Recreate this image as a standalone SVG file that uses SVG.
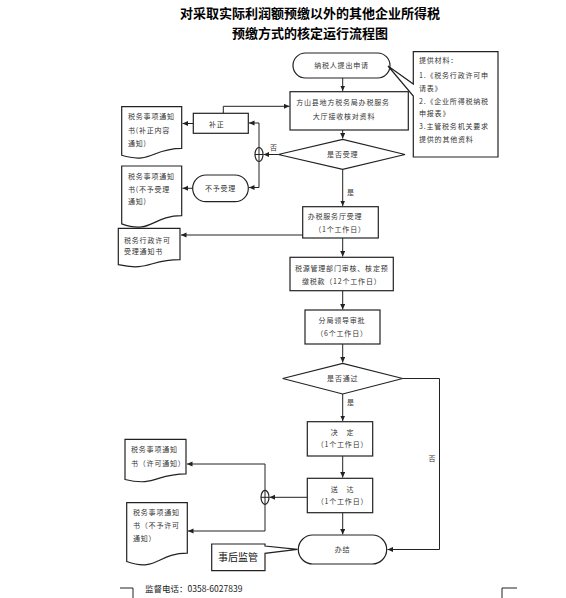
<svg xmlns="http://www.w3.org/2000/svg" width="566" height="598" viewBox="0 0 566 598">
<style>
.sh{fill:#fff;stroke:#222;stroke-width:1.2}
.ln{fill:none;stroke:#222;stroke-width:1}
.t{font-family:"Noto Sans CJK SC","Liberation Sans",sans-serif;font-size:7px;fill:#333;letter-spacing:0.8px}
.c{text-anchor:middle}
.title{font-family:"Noto Sans CJK SC","Liberation Serif",serif;font-size:13px;font-weight:bold;fill:#000;text-anchor:middle}
</style>
<defs>
<marker id="ar" markerUnits="userSpaceOnUse" markerWidth="6" markerHeight="6" refX="5.5" refY="2.5" orient="auto">
<path d="M0,0 L5.5,2.5 L0,5 Z" fill="#222"/>
</marker>
</defs>
<rect width="566" height="598" fill="#fff"/>
<text class="title" x="310" y="18">对采取实际利润额预缴以外的其他企业所得税</text>
<text class="title" x="310" y="38">预缴方式的核定运行流程图</text>

<g id="connectors">
<path class="ln" d="M342.7,78 V91" marker-end="url(#ar)"/>
<path class="ln" d="M342.7,130 V138.5" marker-end="url(#ar)"/>
<path class="ln" d="M278.3,154.5 H263.5" marker-end="url(#ar)"/>
<path class="ln" d="M259,123 V187.5"/>
<path class="ln" d="M259,123 H249" marker-end="url(#ar)"/>
<path class="ln" d="M259,187.5 H249" marker-end="url(#ar)"/>
<path class="ln" d="M193.3,123.5 H182.5" marker-end="url(#ar)"/>
<path class="ln" d="M192.7,188.3 H182.5" marker-end="url(#ar)"/>
<path class="ln" d="M223.3,113.3 V106.3 H289.5" marker-end="url(#ar)"/>
<path class="ln" d="M342.7,169.3 V206" marker-end="url(#ar)"/>
<path class="ln" d="M302.7,235 H181" marker-end="url(#ar)"/>
<path class="ln" d="M342.7,238 V256.5" marker-end="url(#ar)"/>
<path class="ln" d="M342.7,290.7 V309.5" marker-end="url(#ar)"/>
<path class="ln" d="M342.7,344 V362.5" marker-end="url(#ar)"/>
<path class="ln" d="M342.7,394 V421" marker-end="url(#ar)"/>
<path class="ln" d="M342.7,456 V477.5" marker-end="url(#ar)"/>
<path class="ln" d="M342.7,512.7 V534.5" marker-end="url(#ar)"/>
<path class="ln" d="M402.7,378.5 H439.5 V549.5 H387.5" marker-end="url(#ar)"/>
<path class="ln" d="M307.3,497.3 H269.5" marker-end="url(#ar)"/>
<path class="ln" d="M265,464 V531"/>
<path class="ln" d="M265,464 H187" marker-end="url(#ar)"/>
<path class="ln" d="M265,531 H188" marker-end="url(#ar)"/>
<text class="t" x="270" y="149.5">否</text>
<text class="t" x="347" y="194.5">是</text>
<text class="t" x="347" y="404.5">是</text>
<text class="t" x="428.5" y="461">否</text>
</g>

<g id="junction1">
<ellipse class="sh" cx="259" cy="154.5" rx="4" ry="7"/>
<path class="ln" d="M259,147.5 V161.5 M255,154.5 H263"/>
</g>
<g id="junction2">
<ellipse class="sh" cx="265" cy="497.3" rx="4" ry="7"/>
<path class="ln" d="M265,490.3 V504.3 M261,497.3 H269"/>
</g>

<g id="n-start">
<rect class="sh" x="293" y="53" width="97" height="25" rx="12.5"/>
<text class="t c" x="341.5" y="68">纳税人提出申请</text>
</g>

<g id="n-materials">
<path class="sh" d="M413.3,51.7 H498 V157 H413.3 V96 L388,66 L413.3,84 Z"/>
<text class="t" x="419" y="62.5">提供材料：</text>
<text class="t" x="419" y="77.5">1.《税务行政许可申</text>
<text class="t" x="419" y="90.8">请表》</text>
<text class="t" x="419" y="104.2">2.《企业所得税纳税</text>
<text class="t" x="419" y="115.8">申报表》</text>
<text class="t" x="419" y="128.5">3.主管税务机关要求</text>
<text class="t" x="419" y="141.8">提供的其他资料</text>
</g>

<g id="n-receive">
<rect class="sh" x="290" y="91.7" width="118.3" height="38.3"/>
<text class="t c" x="343" y="104.5">方山县地方税务局办税服务</text>
<text class="t c" x="344" y="118.5">大厅接收核对资料</text>
</g>

<g id="n-accept-q">
<path class="sh" d="M278.3,154.5 L342.7,139.3 L405,154.5 L342.7,169.3 Z"/>
<text class="t c" x="342.7" y="157">是否受理</text>
</g>

<g id="n-correct">
<rect class="sh" x="193.3" y="113.3" width="55" height="20"/>
<text class="t c" x="216.7" y="126.5">补正</text>
</g>

<g id="n-reject">
<rect class="sh" x="192.7" y="175" width="55.6" height="26.7" rx="13.3"/>
<text class="t c" x="220.5" y="191">不予受理</text>
</g>

<g id="n-doc1">
<path class="sh" d="M121.7,106.7 H181.7 V148.4 C151.7,148.4 151.7,164.3 121.7,155.3 Z"/>
<text class="t" x="128" y="119.2">税务事项通知</text>
<text class="t" x="128" y="132.5">书(补正内容</text>
<text class="t" x="128" y="145.8">通知)</text>
</g>

<g id="n-doc2">
<path class="sh" d="M121.7,166 H181.7 V215.7 C151.7,215.7 151.7,234.6 121.7,223.9 Z"/>
<text class="t" x="128" y="178.5">税务事项通知</text>
<text class="t" x="128" y="191.8">书(不予受理</text>
<text class="t" x="128" y="204.2">通知)</text>
</g>

<g id="n-hall">
<rect class="sh" x="302.7" y="206.7" width="75.6" height="31.3"/>
<text class="t c" x="335" y="218.5">办税服务厅受理</text>
<text class="t c" x="340" y="231.5">（1个工作日）</text>
</g>

<g id="n-doc3">
<path class="sh" d="M118.3,228.3 H180 V259.6 C149.2,259.6 149.2,271.5 118.3,264.7 Z"/>
<text class="t" x="124" y="242.5">税务行政许可</text>
<text class="t" x="124" y="254.2">受理通知书</text>
</g>

<g id="n-review">
<rect class="sh" x="290" y="257.3" width="103.3" height="33.4"/>
<text class="t c" x="341.7" y="270.8">税源管理部门审核、核定预</text>
<text class="t c" x="341.7" y="283.5">缴税款（12个工作日）</text>
</g>

<g id="n-approve">
<rect class="sh" x="305" y="310" width="75" height="34"/>
<text class="t c" x="342" y="323.2">分局领导审批</text>
<text class="t c" x="342" y="335.8">（6个工作日）</text>
</g>

<g id="n-pass-q">
<path class="sh" d="M282.7,378.5 L342.7,363.3 L402.7,378.5 L342.7,394 Z"/>
<text class="t c" x="342.7" y="381">是否通过</text>
</g>

<g id="n-decide">
<rect class="sh" x="307.3" y="421.7" width="65.4" height="34.3"/>
<text class="t c" x="342.5" y="435.2">决　定</text>
<text class="t c" x="342.5" y="446.8">（1个工作日）</text>
</g>

<g id="n-deliver">
<rect class="sh" x="307.3" y="478.3" width="65.4" height="34.4"/>
<text class="t c" x="342.5" y="491.5">送　达</text>
<text class="t c" x="342.5" y="504.2">（1个工作日）</text>
</g>

<g id="n-doc4">
<path class="sh" d="M125,439.3 H186 V473.8 C155.5,473.8 155.5,486.9 125,479.5 Z"/>
<text class="t" x="131" y="451.8">税务事项通知</text>
<text class="t" x="131" y="465.8">书（许可通知）</text>
</g>

<g id="n-doc5">
<path class="sh" d="M126.7,502.7 H187.3 V553.2 C157,553.2 157,572.4 126.7,561.5 Z"/>
<text class="t" x="133" y="515.2">税务事项通知</text>
<text class="t" x="133" y="528.2">书（不予许可</text>
<text class="t" x="133" y="540.8">通知）</text>
</g>

<g id="n-finish">
<rect class="sh" x="298.3" y="535" width="88.4" height="29" rx="14.5"/>
<text class="t c" x="342.5" y="551.8">办结</text>
</g>

<g id="n-supervise">
<path class="sh" d="M211.7,544 H265 V546 L297.5,549.3 L265,553.3 V570.7 H211.7 Z"/>
<text x="238" y="560.5" text-anchor="middle" font-family="Noto Sans CJK SC, Liberation Sans, sans-serif" font-size="10" fill="#111">事后监管</text>
</g>

<text x="145" y="592" font-family="Noto Sans CJK SC, Liberation Sans, sans-serif" font-size="8.5" fill="#222">监督电话：0358-6027839</text>
<path class="ln" d="M120,588 H133 V598 M517,588 H502 V598" stroke="#888"/>
</svg>
